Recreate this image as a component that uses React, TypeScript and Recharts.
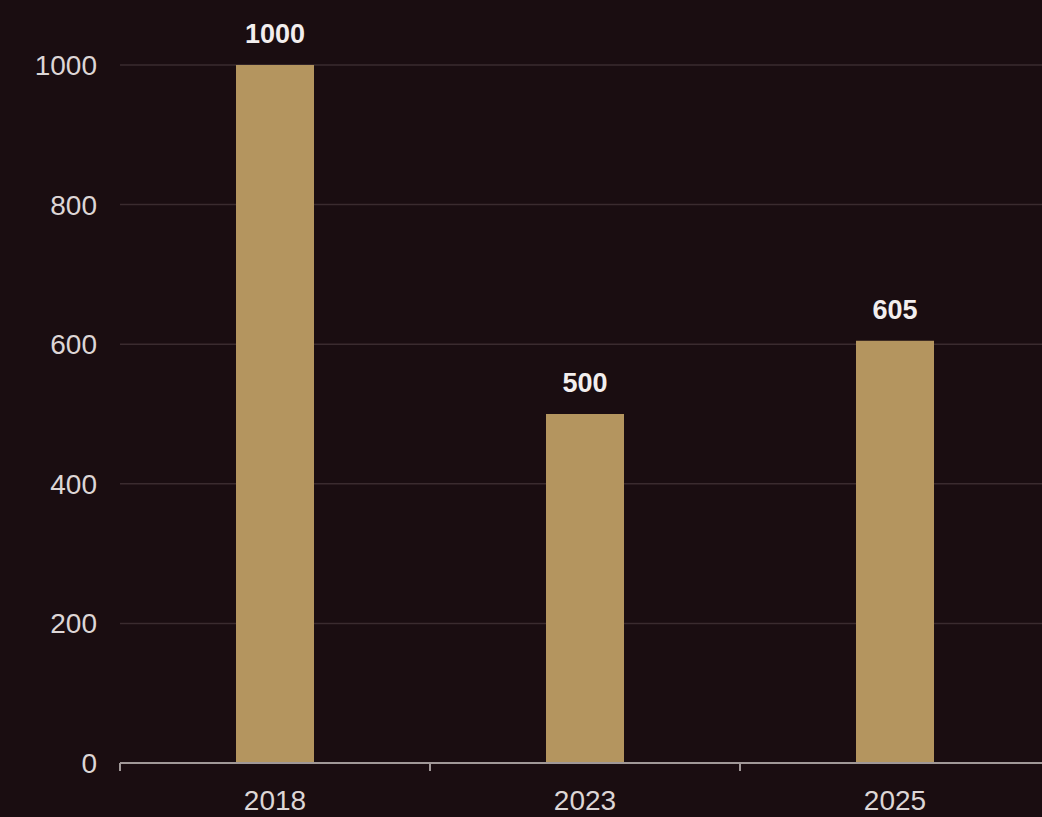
import React from "react";
import { BarChart, Bar, XAxis, YAxis, CartesianGrid, LabelList } from "recharts";

const years = ["2018", "2023", "2025"];
const values = [1000, 500, 605];
const yTicks = [0, 200, 400, 600, 800, 1000];

const data = years.map((y, i) => ({ year: y, value: values[i] }));

function XTick(props: any) {
  const { x, y, payload } = props;
  const half = payload && typeof payload.offset === "number" && payload.offset > 0 ? payload.offset : 155;
  return (
    <g>
      <line x1={x - half} x2={x - half} y1={y} y2={y + 8} stroke="#a09898" strokeWidth={2} />
      <text
        x={x}
        y={y + 47}
        textAnchor="middle"
        fill="#ddd6d6"
        fontSize={28}
      >
        {payload.value}
      </text>
    </g>
  );
}

export default function App() {
  return (
    <div
      style={{
        position: "fixed",
        top: 0,
        left: 0,
        width: 1042,
        height: 817,
        overflow: "hidden",
        background: "#1a0d11",
        fontFamily: "'Liberation Sans', Arial, sans-serif",
      }}
    >
      <BarChart
        width={1050}
        height={817}
        data={data}
        margin={{ top: 65, right: 0, bottom: 0, left: 0 }}
        barCategoryGap={116}
      >
        <CartesianGrid vertical={false} stroke="#3a2b2f" strokeWidth={1.5} />
        <XAxis
          dataKey="year"
          height={54}
          stroke="#a09898"
          strokeWidth={2}
          tickLine={false}
          tickSize={0}
          tickMargin={0}
          tick={<XTick />}
        />
        <YAxis
          domain={[0, 1000]}
          ticks={yTicks}
          width={120}
          axisLine={false}
          tickLine={false}
          tickMargin={17}
          tick={{ fill: "#ddd6d6", fontSize: 28 }}
        />
        <Bar dataKey="value" fill="#b4955f" isAnimationActive={false}>
          <LabelList
            dataKey="value"
            position="top"
            offset={22}
            fill="#f2eeee"
            fontSize={27}
            fontWeight="bold"
          />
        </Bar>
      </BarChart>
    </div>
  );
}
